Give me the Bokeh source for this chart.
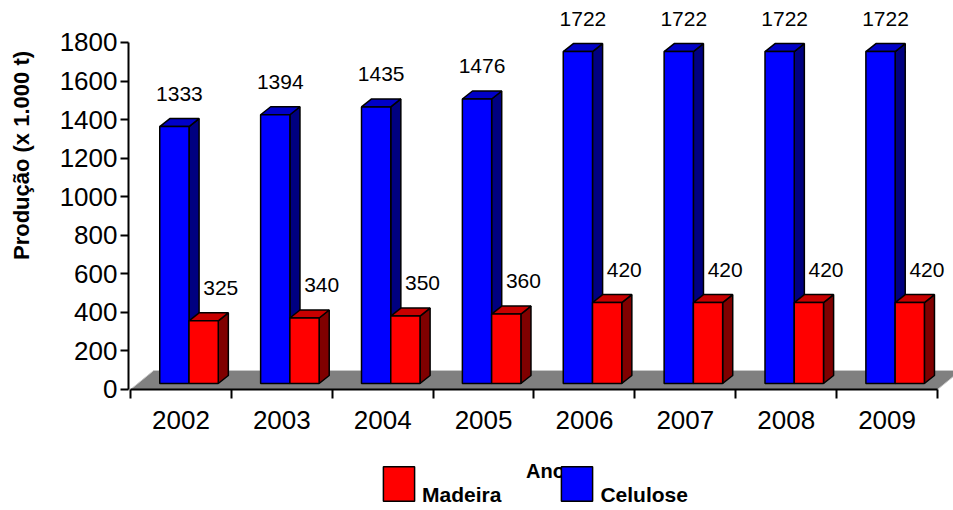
import numpy as np
from bokeh.plotting import figure
from bokeh.models import (Range1d, LinearAxis, FixedTicker, Legend, LegendItem,
                          ColumnDataSource, Label)
from bokeh.core.properties import value
from bokeh.embed import file_html
from bokeh.resources import INLINE

# ---- data ----
years = ["2002", "2003", "2004", "2005", "2006", "2007", "2008", "2009"]
madeira = [325, 340, 350, 360, 420, 420, 420, 420]
celulose = [1333, 1394, 1435, 1476, 1722, 1722, 1722, 1722]
y_ticks = [0, 200, 400, 600, 800, 1000, 1200, 1400, 1600, 1800]

FONT = "Liberation Sans"

# ---- pseudo-3D geometry (style constants) ----
BASE = 31.0            # bar base offset on the floor (data units)
DX, DY = 0.10, 41.5    # bar depth offset
FDX, FDY = 0.23, 98.5  # floor depth offset
BLUE_L, BLUE_R = -0.21, 0.08
RED_L, RED_R = 0.08, 0.37

n = len(years)
xc = np.arange(n, dtype=float)
x0f, x1f = -0.5, n - 0.5

# frame covers the whole canvas; axes are pinned with fixed_location
p = figure(width=953, height=510, output_backend="svg", toolbar_location=None,
           x_range=Range1d(-1.7887, 7.6586), y_range=Range1d(-627.7, 2017.8),
           x_axis_location=None, y_axis_location=None,
           min_border_left=0, min_border_right=0, min_border_top=0, min_border_bottom=0)
p.outline_line_color = None
p.grid.grid_line_color = None
p.background_fill_color = "white"

# floor
p.patch([x0f, x1f, x1f + FDX, x0f + FDX], [0, 0, FDY, FDY],
        fill_color="#808080", line_color="#c8c8c8", line_width=1)


def bar3d(left, right, vals, front, top, side):
    vals = np.asarray(vals, dtype=float)
    t = vals + BASE
    src = ColumnDataSource(dict(left=left, right=right, bottom=np.full(n, BASE), top=t))
    sx = [[r, r + DX, r + DX, r] for r in right]
    sy = [[BASE, BASE + DY, tt + DY, tt] for tt in t]
    p.patches(sx, sy, fill_color=side, line_color="black", line_width=1.5)
    tx = [[l, r, r + DX, l + DX] for l, r in zip(left, right)]
    ty = [[tt, tt, tt + DY, tt + DY] for tt in t]
    p.patches(tx, ty, fill_color=top, line_color="black", line_width=1.5)
    return p.quad(left="left", right="right", bottom="bottom", top="top", source=src,
                  fill_color=front, line_color="black", line_width=1.5)


r_cel = bar3d(xc + BLUE_L, xc + BLUE_R, celulose, "#0000FF", "#0000C8", "#000080")
r_mad = bar3d(xc + RED_L, xc + RED_R, madeira, "#FF0000", "#C80000", "#800000")

# value labels
LBL = 171.0
p.text(x=xc + BLUE_L + 0.145 + 0.05, y=np.asarray(celulose) + BASE + LBL,
       text=[str(v) for v in celulose], text_font=value(FONT), text_font_size="21px",
       text_align="center", text_baseline="alphabetic", text_color="black")
p.text(x=xc + RED_L + 0.145 + 0.17, y=np.asarray(madeira) + BASE + LBL,
       text=[str(v) for v in madeira], text_font=value(FONT), text_font_size="21px",
       text_align="center", text_baseline="alphabetic", text_color="black")

# y axis
yax = LinearAxis(fixed_location=-0.5198, bounds=(0, 1800),
                 ticker=FixedTicker(ticks=y_ticks, minor_ticks=[]),
                 major_tick_out=8, major_tick_in=0, minor_tick_out=0, minor_tick_in=0,
                 axis_line_width=2, major_tick_line_width=2,
                 axis_line_color="black", major_tick_line_color="black",
                 major_label_text_font=FONT, major_label_text_font_size="26px",
                 major_label_text_color="black", major_label_standoff=3)
p.add_layout(yax, "left")

# x axis
xax = LinearAxis(fixed_location=0, bounds=(x0f, x1f),
                 ticker=FixedTicker(ticks=list(xc), minor_ticks=list(np.arange(n + 1) - 0.5)),
                 major_label_overrides={int(i): y for i, y in zip(range(n), years)},
                 major_tick_out=0, major_tick_in=0, minor_tick_out=9, minor_tick_in=0,
                 axis_line_width=2, minor_tick_line_width=2, minor_tick_line_color="black",
                 axis_line_color="black",
                 major_label_text_font=FONT, major_label_text_font_size="26px",
                 major_label_text_color="black", major_label_standoff=13)
p.add_layout(xax, "below")

# axis titles
p.add_layout(Label(x=21, y=355, x_units="screen", y_units="screen",
                   text="Produção (x 1.000 t)", angle=np.pi / 2,
                   text_align="center", text_baseline="middle",
                   text_font=FONT, text_font_style="bold", text_font_size="22px",
                   text_color="black"))
p.add_layout(Label(x=545, y=40, x_units="screen", y_units="screen", text="Ano",
                   text_align="center", text_baseline="middle",
                   text_font=FONT, text_font_style="bold", text_font_size="20px",
                   text_color="black"))

# legend: label on a second line so it sits low beside the swatch, as in the original
legend = Legend(items=[LegendItem(label="\nMadeira", renderers=[r_mad]),
                       LegendItem(label="\nCelulose", renderers=[r_cel])],
                location=(379, -13), orientation="horizontal",
                glyph_width=39, glyph_height=43, label_standoff=4, spacing=56,
                label_height=80,
                padding=0, margin=0, border_line_color=None, background_fill_alpha=0,
                label_text_font=FONT, label_text_font_style="bold", label_text_color="black",
                label_text_font_size="21px")
p.add_layout(legend)

open("out.html", "w").write(file_html(p, INLINE))
